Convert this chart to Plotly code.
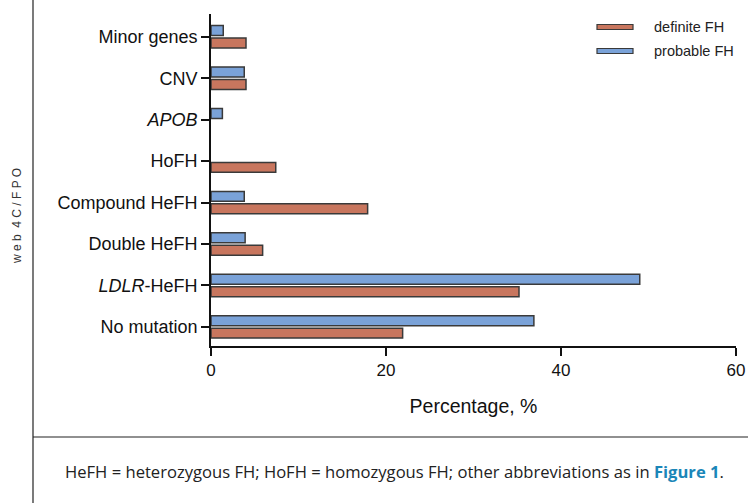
import plotly.graph_objects as go

# ---- data ----
categories = ["No mutation", "LDLR-HeFH", "Double HeFH", "Compound HeFH",
              "HoFH", "APOB", "CNV", "Minor genes"]
tick_labels = ["No mutation", "<i>LDLR</i>-HeFH", "Double HeFH", "Compound HeFH",
               "HoFH", "<i>APOB</i>", "CNV", "Minor genes"]
definite_fh = [21.9, 35.2, 5.9, 17.9, 7.4, None, 4.0, 4.0]
probable_fh = [36.9, 49.0, 3.9, 3.8, None, 1.3, 3.8, 1.4]
x_ticks = [0, 20, 40, 60]

W, H = 748, 503
ML, MR, MT, MB = 211, 12, 14, 157
PW, PH = W - ML - MR, H - MT - MB

def px(x):
    return (x - ML) / PW

def py(y):
    return (H - MB - y) / PH

RED = "#c8765e"
BLUE = "#7aa2d8"
EDGE = "#3a3a3a"
FONT = "Liberation Sans, Arial, sans-serif"

fig = go.Figure()
fig.add_trace(go.Bar(y=categories, x=definite_fh, orientation="h", name="definite FH",
                     marker=dict(color=RED, line=dict(color=EDGE, width=1.5)),
                     showlegend=False))
fig.add_trace(go.Bar(y=categories, x=probable_fh, orientation="h", name="probable FH",
                     marker=dict(color=BLUE, line=dict(color=EDGE, width=1.5)),
                     showlegend=False))

shapes = []
annotations = []
# legend (drawn manually as wide swatches)
for name, col, ycen in [("definite FH", RED, 27), ("probable FH", BLUE, 51)]:
    shapes.append(dict(type="rect", xref="paper", yref="paper",
                       x0=px(597), x1=px(633), y0=py(ycen + 2.5), y1=py(ycen - 2.5),
                       fillcolor=col, line=dict(color=EDGE, width=1.2)))
    annotations.append(dict(text=name, xref="paper", yref="paper", x=px(652), y=py(ycen),
                            xanchor="left", yanchor="middle", showarrow=False,
                            font=dict(family=FONT, size=14.5, color="#222")))

# frame lines
shapes.append(dict(type="line", xref="paper", yref="paper", x0=px(33), x1=px(33),
                   y0=py(0), y1=py(H), line=dict(color="#222", width=1.2)))
shapes.append(dict(type="line", xref="paper", yref="paper", x0=px(33), x1=px(W),
                   y0=py(437), y1=py(437), line=dict(color="#222", width=1.2)))

# side text
annotations.append(dict(text="w e b  4 C / F P O", xref="paper", yref="paper",
                        x=px(17), y=py(216), textangle=-90, showarrow=False,
                        xanchor="center", yanchor="middle",
                        font=dict(family=FONT, size=12, color="#333")))
# caption
annotations.append(dict(
    text="HeFH = heterozygous FH; HoFH = homozygous FH; other abbreviations as in "
         "<b><span style='color:#1a86b8'>Figure 1</span></b>.",
    xref="paper", yref="paper", x=px(63), y=py(471), xanchor="left", yanchor="middle",
    showarrow=False, font=dict(family="Open Sans, Noto Sans, sans-serif", size=16.6, color="#222")))

fig.update_layout(
    width=W, height=H, autosize=False,
    margin=dict(l=ML, r=MR, t=MT, b=MB, pad=0, autoexpand=False),
    paper_bgcolor="white", plot_bgcolor="white",
    barmode="group", bargap=0.4, bargroupgap=0.2,
    shapes=shapes, annotations=annotations,
    font=dict(family=FONT, color="#111"),
    xaxis=dict(range=[0, 60], tickvals=x_ticks, ticks="outside", ticklen=8, tickwidth=1.8,
               tickcolor="#111", showline=True, linecolor="#111", linewidth=1.8,
               showgrid=False, zeroline=False, tickfont=dict(size=17), automargin=False,
               title=dict(text="Percentage, %", font=dict(size=19.5), standoff=20)),
    yaxis=dict(categoryorder="array", categoryarray=categories, tickvals=categories,
               ticktext=tick_labels, range=[-0.46, 7.55], ticks="outside", ticklen=8,
               tickwidth=1.8, tickcolor="#111", showline=True, linecolor="#111",
               linewidth=1.8, showgrid=False, zeroline=False, tickfont=dict(size=18),
               automargin=False),
)

post = ("document.body.style.margin='0';document.body.style.overflow='hidden';"
        "Plotly.relayout('{plot_id}', {width: 748, height: 503});")
fig.write_html("out.html", config={"displayModeBar": False, "responsive": False},
               post_script=post)
